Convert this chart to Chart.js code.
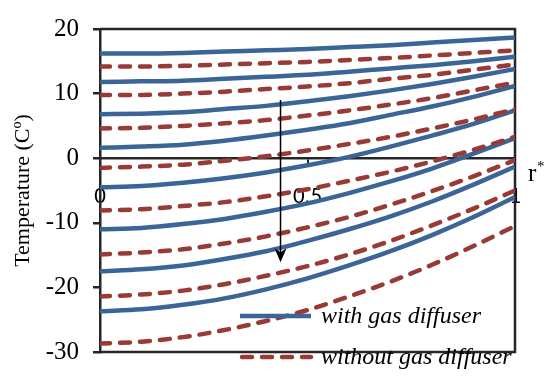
<!DOCTYPE html>
<html>
<head>
<meta charset="utf-8">
<script src="https://cdn.jsdelivr.net/npm/chart.js@4.4.1/dist/chart.umd.min.js"></script>
<style>
  body { margin: 0; background: #fff; }
  #wrap { width: 547px; height: 381px; }
</style>
</head>
<body>
<div id="wrap"><canvas id="tempChart" width="547" height="381"></canvas></div>
<script>
// r* positions
const rStar = [0, 0.1, 0.2, 0.3, 0.4, 0.5, 0.6, 0.7, 0.8, 0.9, 1];

// with gas diffuser (blue, solid)
const withGas1 = [16.2, 16.2, 16.3, 16.5, 16.7, 16.9, 17.2, 17.5, 17.9, 18.3, 18.7];
const withGas2 = [11.8, 11.9, 12.0, 12.3, 12.6, 12.9, 13.4, 13.9, 14.4, 15.0, 15.7];
const withGas3 = [6.8, 6.9, 7.1, 7.6, 8.1, 8.8, 9.6, 10.5, 11.5, 12.6, 13.8];
const withGas4 = [1.6, 1.8, 2.1, 2.7, 3.5, 4.4, 5.4, 6.7, 8.0, 9.5, 11.2];
const withGas5 = [-4.5, -4.3, -3.8, -3.1, -2.2, -1.1, 0.2, 1.8, 3.5, 5.3, 7.4];
const withGas6 = [-11, -10.8, -10.2, -9.4, -8.3, -7.0, -5.4, -3.6, -1.6, 0.7, 3.1];
const withGas7 = [-17.5, -17.2, -16.6, -15.6, -14.4, -12.8, -11.0, -9.0, -6.7, -4.1, -1.3];
const withGas8 = [-23.7, -23.4, -22.7, -21.7, -20.3, -18.6, -16.6, -14.4, -11.9, -9.1, -6.0];

// without gas diffuser (red, dashed)
const noGas1 = [14.2, 14.2, 14.3, 14.5, 14.7, 14.9, 15.2, 15.5, 15.9, 16.3, 16.7];
const noGas2 = [9.8, 9.8, 10.0, 10.3, 10.7, 11.1, 11.6, 12.3, 12.9, 13.7, 14.5];
const noGas3 = [4.6, 4.7, 5.0, 5.4, 5.9, 6.6, 7.4, 8.3, 9.3, 10.5, 11.7];
const noGas4 = [-1.5, -1.3, -1.0, -0.4, 0.3, 1.2, 2.2, 3.3, 4.6, 6.0, 7.6];
const noGas5 = [-8.1, -7.9, -7.4, -6.8, -5.9, -4.8, -3.5, -2.1, -0.5, 1.3, 3.3];
const noGas6 = [-14.9, -14.6, -14.1, -13.2, -12.1, -10.7, -9.1, -7.2, -5.1, -2.8, -0.3];
const noGas7 = [-21.4, -21.1, -20.5, -19.5, -18.2, -16.7, -14.9, -12.8, -10.4, -7.8, -5.0];
const noGas8 = [-28.7, -28.4, -27.7, -26.6, -25.2, -23.5, -21.4, -19.1, -16.5, -13.6, -10.5];

const withGas = [withGas1, withGas2, withGas3, withGas4, withGas5, withGas6, withGas7, withGas8];
const noGas = [noGas1, noGas2, noGas3, noGas4, noGas5, noGas6, noGas7, noGas8];

const xTicks = [0, 0.5, 1];
const yTicks = [-30, -20, -10, 0, 10, 20];

// arrow: from (r*, T) to (r*, T)
const arrowFrom = [0.435, 9];
const arrowTo = [0.435, -16.1];

const BLUE = "#3b6497";
const RED = "#983a36";
const AXIS = "#262626";
const SERIF = "'Times New Roman', 'Liberation Serif', Tinos, serif";
const SANS = "Carlito, Calibri, 'Liberation Sans', Arial, sans-serif";

const toPoints = (arr) => rStar.map((x, i) => ({ x: x, y: arr[i] }));

const datasets = [];
noGas.forEach((s, i) => {
    datasets.push({
        label: "without gas diffuser " + (i + 1),
        data: toPoints(s),
        borderColor: RED,
        borderWidth: 4.5,
        borderDash: [10, 10],
        borderCapStyle: "round",
        cubicInterpolationMode: "monotone",
        pointRadius: 0,
        showLine: true,
    });
});
withGas.forEach((s, i) => {
    datasets.push({
        label: "with gas diffuser " + (i + 1),
        data: toPoints(s),
        borderColor: BLUE,
        borderWidth: 4.5,
        cubicInterpolationMode: "monotone",
        pointRadius: 0,
        showLine: true,
    });
});

// frame, arrow, r* label, axis title and legend
const extras = {
    id: "extras",
    beforeDatasetsDraw(chart) {
        const { ctx, chartArea: a } = chart;
        ctx.save();
        ctx.strokeStyle = AXIS;
        ctx.lineWidth = 2.5;
        ctx.beginPath();
        ctx.moveTo(a.left, a.top);
        ctx.lineTo(a.right, a.top);
        ctx.lineTo(a.right, a.bottom);
        ctx.lineTo(a.left, a.bottom);
        ctx.stroke();

        // y title with superscript o
        const cy = (a.top + a.bottom) / 2;
        ctx.translate(29, cy);
        ctx.rotate(-Math.PI / 2);
        ctx.fillStyle = "#000";
        ctx.textBaseline = "alphabetic";
        ctx.font = "22px " + SERIF;
        const main = "Temperature (C";
        const wMain = ctx.measureText(main).width;
        ctx.font = "14px " + SERIF;
        const wSup = ctx.measureText("o").width;
        ctx.font = "22px " + SERIF;
        const wEnd = ctx.measureText(")").width;
        let px = -(wMain + wSup + wEnd) / 2;
        ctx.fillText(main, px, 0);
        px += wMain;
        ctx.font = "14px " + SERIF;
        ctx.fillText("o", px, -8);
        px += wSup;
        ctx.font = "22px " + SERIF;
        ctx.fillText(")", px, 0);
        ctx.restore();
    },
    afterDatasetsDraw(chart) {
        const { ctx, scales } = chart;
        const x = scales.x, y = scales.y;
        ctx.save();

        // arrow
        const ax = x.getPixelForValue(arrowFrom[0]);
        const ay0 = y.getPixelForValue(arrowFrom[1]);
        const ay1 = y.getPixelForValue(arrowTo[1]);
        ctx.strokeStyle = "#000";
        ctx.fillStyle = "#000";
        ctx.lineWidth = 1.5;
        ctx.beginPath();
        ctx.moveTo(ax, ay0);
        ctx.lineTo(ax, ay1 - 8);
        ctx.stroke();
        ctx.beginPath();
        ctx.moveTo(ax, ay1);
        ctx.lineTo(ax - 6, ay1 - 14);
        ctx.lineTo(ax, ay1 - 10);
        ctx.lineTo(ax + 6, ay1 - 14);
        ctx.closePath();
        ctx.fill();

        // r* label
        ctx.fillStyle = "#000";
        ctx.textBaseline = "alphabetic";
        ctx.textAlign = "left";
        ctx.font = "25px " + SERIF;
        ctx.fillText("r", 528, 181);
        ctx.font = "15px " + SERIF;
        ctx.fillText("*", 537, 171);

        // legend
        ctx.lineWidth = 4.5;
        ctx.strokeStyle = BLUE;
        ctx.beginPath();
        ctx.moveTo(240, 316);
        ctx.lineTo(311, 316);
        ctx.stroke();
        ctx.strokeStyle = RED;
        ctx.lineCap = "round";
        ctx.setLineDash([10, 10]);
        ctx.beginPath();
        ctx.moveTo(242, 357);
        ctx.lineTo(311, 357);
        ctx.stroke();
        ctx.setLineDash([]);
        ctx.font = "italic 24px " + SERIF;
        ctx.fillStyle = "#000";
        ctx.fillText("with gas diffuser", 321, 323);
        ctx.fillText("without gas diffuser", 321, 364);
        ctx.restore();
    },
};

new Chart(document.getElementById("tempChart").getContext("2d"), {
    type: "scatter",
    data: { datasets: datasets },
    options: {
        responsive: false,
        animation: false,
        layout: { padding: { left: 0, right: 32, top: 23, bottom: 9 } },
        plugins: {
            legend: { display: false },
            tooltip: { enabled: false },
        },
        scales: {
            x: {
                type: "linear",
                position: { y: 0 },
                z: 1,
                min: 0,
                max: 1,
                afterBuildTicks: (s) => { s.ticks = xTicks.map((v) => ({ value: v })); },
                ticks: {
                    padding: 19,
                    color: "#000",
                    maxRotation: 0,
                    font: { family: SANS, size: 23 },
                    callback: (v) => String(v),
                },
                grid: { drawOnChartArea: false, drawTicks: true, tickLength: 6, color: AXIS, lineWidth: 2 },
                border: { display: true, color: AXIS, width: 2.5 },
            },
            y: {
                min: -30,
                max: 20,
                afterBuildTicks: (s) => { s.ticks = yTicks.map((v) => ({ value: v })); },
                afterFit: (s) => { s.width = 100; },
                ticks: {
                    padding: 14,
                    color: "#000",
                    font: { family: SERIF, size: 25 },
                },
                grid: { drawOnChartArea: false, drawTicks: true, tickLength: 7, color: AXIS, lineWidth: 2.5 },
                border: { display: true, color: AXIS, width: 2.5 },
            },
        },
    },
    plugins: [extras],
});
</script>
</body>
</html>
